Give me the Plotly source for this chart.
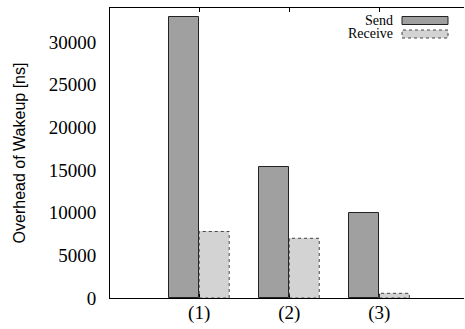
import plotly.graph_objects as go

categories = ["(1)", "(2)", "(3)"]
positions = [1, 2, 3]
send = [33000, 15400, 10000]
receive = [7800, 7000, 550]
y_ticks = [0, 5000, 10000, 15000, 20000, 25000, 30000]
y_tick_labels = ["0", "5000", "10000", "15000", "20000", "25000", "30000"]

SEND_FILL = "#a0a0a0"
RECV_FILL = "#d3d3d3"
SERIF = "Liberation Serif"
SANS = "Liberation Sans"

W, H = 465, 329
ML, MR, MT, MB = 110, 1, 8, 31
BW = 1 / 3

fig = go.Figure()
fig.add_trace(go.Bar(
    x=[p - BW / 2 for p in positions], y=send, width=BW, name="Send",
    marker=dict(color=SEND_FILL, line=dict(color="#222222", width=1)),
    showlegend=False,
))
fig.add_trace(go.Bar(
    x=[p + BW / 2 for p in positions], y=receive, width=BW, name="Receive",
    marker=dict(color=RECV_FILL, line=dict(width=0)),
    showlegend=False,
))
# dashed outlines of the Receive bars, derived from data
for p, v in zip(positions, receive):
    fig.add_shape(type="rect", xref="x", yref="y", x0=p, x1=p + BW, y0=0, y1=v,
                  line=dict(color="#444444", width=1, dash="dot"),
                  fillcolor="rgba(0,0,0,0)", layer="above")

# manual legend
pw = W - ML - MR
ph = H - MT - MB
def px(x):
    return (x - ML) / pw
def py(y):
    return (H - MB - y) / ph

legend_items = [("Send", SEND_FILL, "solid", "#222222", 20.5),
                ("Receive", RECV_FILL, "dot", "#444444", 34)]
for label, fill, dash, lc, yc in legend_items:
    fig.add_annotation(xref="paper", yref="paper", x=px(394), y=py(yc),
                       text=label, showarrow=False, xanchor="right", yanchor="middle",
                       font=dict(family=SERIF, size=14, color="black"), borderpad=0,
                       height=13, valign="middle")
    fig.add_shape(type="rect", xref="paper", yref="paper",
                  x0=px(402), x1=px(448), y0=py(yc + 4), y1=py(yc - 4),
                  fillcolor=fill, line=dict(color=lc, width=1, dash=dash))

fig.update_layout(
    width=W, height=H,
    margin=dict(l=ML, r=MR, t=MT, b=MB, pad=0, autoexpand=False),
    plot_bgcolor="white", paper_bgcolor="white",
    barmode="overlay", bargap=0,
    showlegend=False,
    xaxis=dict(
        range=[0.01, 3.94], tickmode="array", tickvals=positions, ticktext=categories,
        showline=True, linecolor="black", linewidth=1, mirror="ticks",
        ticks="inside", ticklen=4, tickcolor="black", showgrid=False, zeroline=False,
        tickfont=dict(family=SERIF, size=19, color="black"), ticklabelstandoff=-3,
        automargin=False,
    ),
    yaxis=dict(
        range=[0, 34000], tickmode="array", tickvals=y_ticks, ticktext=y_tick_labels,
        showline=True, linecolor="black", linewidth=1, mirror=False,
        ticks="", showgrid=False, zeroline=False,
        tickfont=dict(family=SERIF, size=19, color="black"), ticklabelstandoff=9,
        title=dict(text="Overhead of Wakeup [ns]", font=dict(family=SANS, size=16, color="black"),
                   standoff=19),
        automargin=False,
    ),
)

fig.write_html("out.html", config={"displayModeBar": False},
               post_script="document.body.style.margin='0px';")
